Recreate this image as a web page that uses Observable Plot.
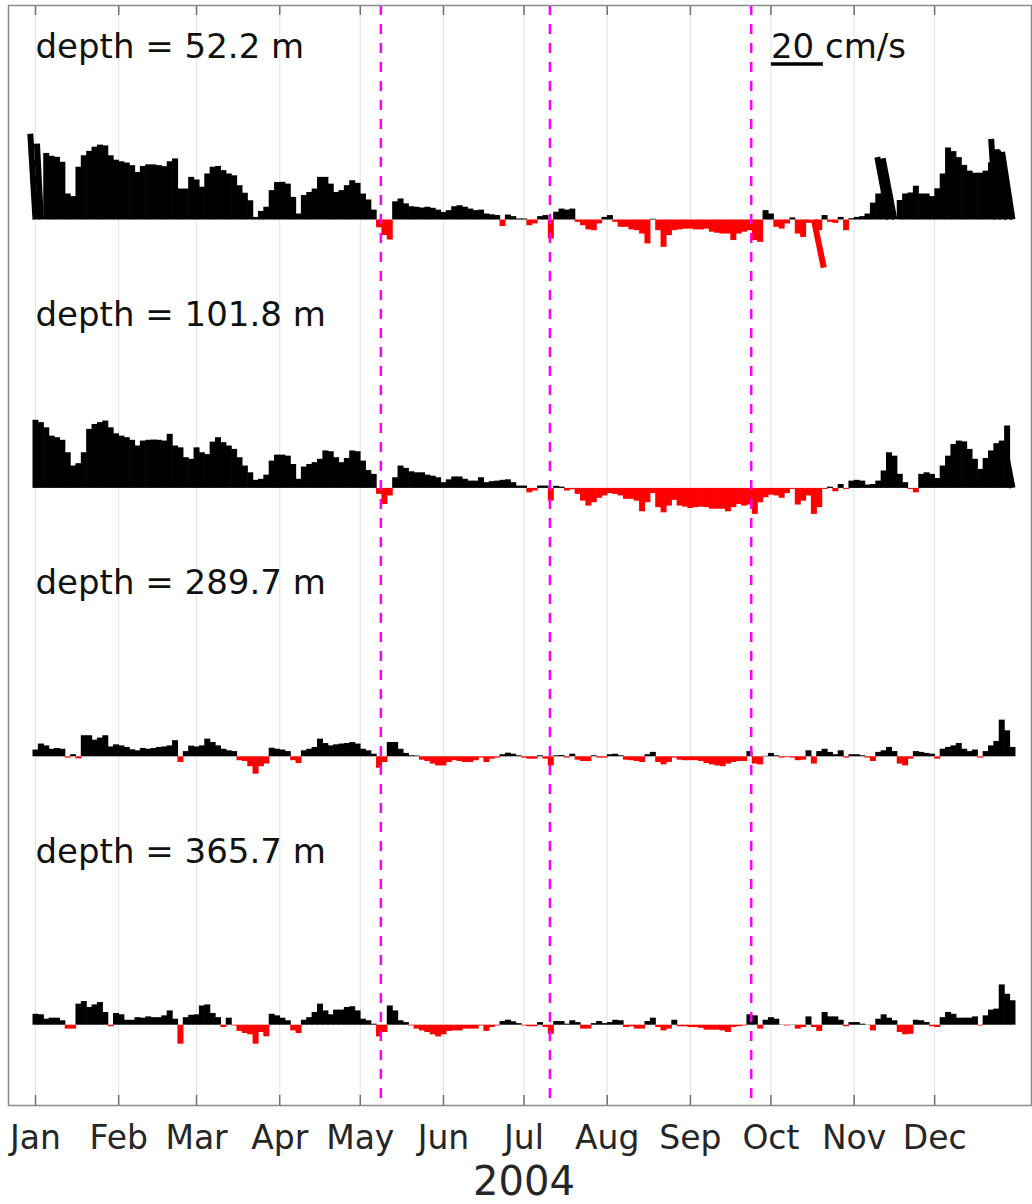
<!DOCTYPE html>
<html><head><meta charset="utf-8">
<script src="https://cdn.jsdelivr.net/npm/d3@7"></script>
<script src="https://cdn.jsdelivr.net/npm/@observablehq/plot@0.6"></script>
<style>body{margin:0;background:#fff}</style>
</head><body><div id="chart"></div>
<script>
// ---------------- data ----------------
const startDate = "2004-01-01";
const stepDays = 2; // one stick every 2 days
const depthLabels = ["52.2", "101.8", "289.7", "365.7"];
const monthNames = ["Jan","Feb","Mar","Apr","May","Jun","Jul","Aug","Sep","Oct","Nov","Dec"];
const eventDates = ["2004-05-08T16:00Z", "2004-07-10T16:00Z", "2004-09-23T16:00Z"];
const scaleBarSpeed = 20; // cm/s
const xAxisLabel = "2004";

// northward component (cm/s), every 2 days from Jan 1
const v52 = [
 33, 29.2, 25.6, 24.5, 24.1, 22.2, 10, 9, 20.3, 24.7,
 26.4, 28, 28.8, 28.5, 24.7, 23, 22.4, 21.9, 20.9, 18.3,
 20.6, 21.2, 21.2, 20.9, 20.5, 22.4, 23.5, 11.9, 11.9, 16.4,
 15.4, 12.6, 17.7, 20.3, 20.6, 19, 17.7, 17, 13.2, 10.3,
 7.4, 1, 3.3, 4.9, 11.3, 14.4, 14.5, 13.8, 8.7, 2.3,
 9.4, 10.6, 11.9, 16.4, 16.4, 13.8, 10.6, 11.3, 13.2, 15.1,
 14.1, 10, 7.7, 3.8, -3, -6, -7.7, 7, 8.1, 6.2,
 5.1, 4.9, 4.6, 4.9, 4.5, 3.8, 2.9, 3.6, 5.1, 5.5,
 4.9, 4.2, 3.6, 3.8, 2.3, 2, 1.7, -2.5, 1.9, 1.3,
 0.4, 0.4, -2.2, -1.5, 1.3, 1.7, -7.3, 3, 4.2, 3.8,
 4.2, -0.9, -2.2, -3.8, -4.1, -1.5, 1, 1.7, -0.9, -2.8,
 -2.8, -3.8, -4.1, -5.4, -9.2, 0.3, -4.1, -10.5, -6, -4.1,
 -3.8, -3.5, -3.5, -3.8, -3.8, -3.5, -4.7, -5.1, -5.4, -5.4,
 -7.9, -5.4, -4.7, -4.1, -7.9, -8.6, 3.6, 2.3, -2.8, -3.5,
 -1.5, 0.8, -5.4, -6.7, -1.3, -18.5, -4.1, 1.7, -0.9, -1.3,
 1, -4.1, 0.5, 1, 1.3, 2.3, 6.5, 10, 10.4, 24,
 23.5, 7.5, 10, 10.4, 13, 10, 10, 9, 12, 17.7,
 27.7, 26.3, 24, 21, 18.8, 18, 18, 18.8, 22, 31,
 27, 26.5, 26
];
const v102 = [
 26.2, 25.3, 23.3, 20.1, 19.5, 18.5, 13.7, 8.6, 9.5, 13.7,
 22.7, 24.6, 25.3, 25.9, 23.3, 21, 20.1, 19.5, 18.5, 16.3,
 18.2, 18.5, 18.6, 18.5, 18.2, 20.8, 16.3, 15.6, 11.8, 11.2,
 15.6, 13.7, 13, 17.8, 19.5, 17.6, 16.3, 15, 11.8, 8.6,
 6, 3.1, 3.5, 5.1, 10.5, 12.8, 12.8, 12.4, 9.2, 3.5,
 8.2, 9.2, 9.9, 11.2, 14.4, 14.1, 11.8, 9.9, 11.5, 14.4,
 14.1, 10.5, 6.9, 5.4, -2.3, -6.2, -2.9, 4.1, 8.6, 7.7,
 6.4, 6, 6, 5.1, 4.7, 4.1, 2.2, 3.3, 4.4, 4.4,
 3.5, 2.8, 2.8, 4.1, 2.2, 2.6, 2.8, 3.1, 3.3, 2.2,
 0.9, 0.9, -1.7, -1, 0.9, 0.9, -4.9, 0.8, 0.5, -1,
 -0.5, -2.3, -4.9, -6.8, -5.5, -3.8, -2.9, -2, -2.3, -2.9,
 -4.2, -4.2, -4.9, -9, -5.5, -2, -7.4, -9.4, -6.8, -4.6,
 -6.8, -7.2, -7.7, -7.4, -7.2, -7.4, -8, -8, -8, -9,
 -7.4, -6.2, -6.8, -6.4, -10, -5.5, -3.6, -2.6, -2.9, -3.8,
 -2, -0.4, -6.4, -4.9, -2.9, -10, -7.4, -0.4, 0.5, -1.3,
 1.5, -0.4, 2.8, 3.1, 2.8, 1.3, 1.5, 2.8, 6.7, 13.7,
 12.4, 5.4, 2.2, -0.4, -1.7, 5.4, 6, 5.4, 3.8, 8.6,
 12.4, 16.9, 18.2, 17.9, 15, 11.2, 7.3, 11.5, 14.4, 17.2,
 18.2, 24, 15.6
];
const v290 = [
 2.6, 4.9, 4.2, 2.9, 3.2, 2.9, -0.5, 0.8, -0.8, 8.1,
 8.1, 6.4, 7.2, 8.1, 3.8, 4.6, 4.2, 3.6, 2.7, 2.3,
 3.2, 2.9, 3.2, 3.6, 3.8, 4.2, 6.2, -2.2, 2, 4.1,
 3.8, 4.2, 6.8, 5.5, 4.2, 2.9, 2.3, 2, -1.5, -1.8,
 -3.8, -6.7, -3.8, -2.8, 3.3, 2.9, 2.6, 2, -1.5, -2.6,
 2.3, 2.9, 3.6, 6.8, 5.1, 4.2, 4.6, 4.9, 5.1, 5.5,
 4.9, 2.9, 2.3, 1, -4.4, -2.2, 5.5, 5.5, 2.9, 1.3,
 0.4, 0.3, -1.3, -1.8, -2.8, -3.5, -3.5, -2.2, -1.5, -1.8,
 -2.2, -2.2, -1.5, -0.5, -2.2, -0.9, -0.5, 0.8, 1.4, 1,
 0.4, -0.5, -0.9, -0.9, 0.4, -0.9, -3.5, 0.4, 0.5, -0.5,
 1, -1.3, -1.8, -1.8, 0.4, -0.5, -0.5, 0.8, 1, 0.4,
 -1.3, -1.5, -1.8, -2.2, 0.8, 1.7, -2.2, -3.1, -2.2, -0.5,
 -1.3, -1.5, -1.5, -1.5, -1.8, -2.6, -3.1, -3.5, -3.8, -2.8,
 -2.2, -1.8, -1.8, 2, -2.8, -3.1, 0.2, 1.3, 0.4, -0.5,
 -0.3, -0.5, -1.5, -1.3, 2.3, -2.8, 2, 2.9, 1.7, 0.8,
 2.3, -0.5, 0.8, 0.8, 0.4, -0.5, -1.8, 1.7, 2.3, 3.6,
 2, -2.8, -3.5, -0.9, 2, 1.7, 1.3, 1, -0.9, 2.9,
 3.6, 4.2, 5.1, 2.9, 2, 2.6, -0.5, 2, 4.2, 5.9,
 14.1, 10, 3.6
];
const v366 = [
 4.2, 4, 2.3, 2.7, 2.7, 1.7, -1.5, -1.5, 8.1, 9.1,
 6.8, 7.8, 8.7, 4.9, -0.6, 4.5, 4, 1.9, 1.9, 2.9,
 2.7, 3.2, 2.9, 2.9, 3.6, 5.5, 2.3, -7.3, 2.9, 3.8,
 4, 7.4, 7.8, 4.5, 2.9, -0.9, 2.7, -0.3, -2.4, -3.2,
 -3.7, -7.3, -2.8, -4.5, 4.2, 3.6, 2.7, 1.7, -2.2, -3.2,
 1.9, 2.9, 4.9, 8.1, 5.5, 4, 5.8, 5.8, 6.8, 7.1,
 5.5, 2.3, 1.7, 0.4, -4.5, -2.8, 7.4, 5.5, 1.7, 1,
 -0.3, -1.5, -2.2, -2.8, -3.7, -4.5, -3.7, -2.4, -2.2, -2.2,
 -1.5, -1.5, -1.5, -0.3, -2.4, -0.9, -0.3, 1.4, 1.9, 1.3,
 0.6, -0.3, -0.6, -0.6, 1, -0.9, -3.5, 1.4, 1.4, 0.4,
 1.7, 1, -1.5, -1.5, 0.6, 1.4, 0.6, 1, 1.9, 1.7,
 -0.9, -0.6, -1.5, -1.5, 1.4, 2.7, -0.9, -2.2, -1.5, 1.9,
 -0.6, -0.6, -0.9, -0.9, -1.2, -1.9, -1.9, -1.9, -2.2, -2.8,
 -0.9, -0.6, -0.3, 4, 3.6, -1.5, 1.9, 2.9, 2.3, 0.1,
 -0.3, 0.1, -1.5, -0.9, 3.2, -0.9, -2.4, 4.9, 3.2, 3.2,
 1.9, -0.6, 1, 1, 0.4, 0.1, -2.2, 2.3, 4, 2.7,
 1.7, -2.8, -3.7, -3.5, 1.9, 1.7, 1, -0.6, -0.9, 2.9,
 4.9, 4.2, 2.7, 2.7, 2.7, 3.2, -0.3, 3.6, 5.8, 6.2,
 15.5, 11.9, 9.4
];
// eastward component (cm/s) where noticeably non-zero, keyed by day of year
const u52 = {0: -2, 2: -1.5, 290: 3.8, 318: -4.5, 320: -4.5, 358: -2, 360: -2, 362: -3.5, 364: -4};
const u102 = {364: -3};
const u290 = {};
const u366 = {};

// ---------------- layout ----------------
const W = 1032, H = 1204;
const mL = 8, mR = 1, mT = 5, mB = 99;
const pxPerDay = 2.684, pxPerUnit = 2.6;
const DAY = 864e5;
const t0 = Date.parse(startDate + "T00:00Z");
const jan1X = 35;
const xDomain = [new Date(t0 - (jan1X - mL) / pxPerDay * DAY), new Date(t0 + (W - mR - jan1X) / pxPerDay * DAY)];
const panelGap = 268.4 / pxPerUnit;
const yMax = (219 - mT) / pxPerUnit;
const yMin = yMax - (H - mT - mB) / pxPerUnit;
const labelRise = (219 - 57) / pxPerUnit;
const barRise = (219 - 63.5) / pxPerUnit;
const uToDays = pxPerUnit / pxPerDay * DAY;

const series = [v52, v102, v290, v366];
const uSeries = [u52, u102, u290, u366];
const sticks = [];
series.forEach((vs, i) => vs.forEach((v, j) => {
  const day = j * stepDays;
  const u = uSeries[i][day] || 0;
  const t = t0 + day * DAY;
  const base = -i * panelGap;
  sticks.push({x1: new Date(t), y1: base, x2: new Date(t + u * uToDays), y2: base + v, neg: v < 0});
}));
const months = monthNames.map((m, k) => new Date(Date.UTC(2004, k, 1)));
const events = eventDates.map(d => new Date(d));
const oct1 = new Date(Date.UTC(2004, 9, 1));
const scaleBar = [{x1: oct1, x2: new Date(+oct1 + scaleBarSpeed * uToDays), y: barRise}];

const plot = Plot.plot({
  width: W, height: H,
  marginLeft: mL, marginRight: mR, marginTop: mT, marginBottom: mB,
  style: {fontFamily: "DejaVu Sans", background: "#fff", color: "#262626", overflow: "visible"},
  x: {type: "utc", domain: xDomain, axis: null},
  y: {domain: [yMin, yMax], axis: null},
  marks: [
    Plot.ruleX(months, {stroke: "#e2e2e2", strokeWidth: 1}),
    Plot.ruleX(months, {y1: yMin, y2: yMin + 10 / pxPerUnit, stroke: "#6e6e6e", strokeWidth: 1.5}),
    Plot.ruleX(months, {y1: yMax - 10 / pxPerUnit, y2: yMax, stroke: "#6e6e6e", strokeWidth: 1.5}),
    Plot.link(sticks.filter(d => !d.neg), {x1: "x1", y1: "y1", x2: "x2", y2: "y2", stroke: "#000", strokeWidth: 6}),
    Plot.link(sticks.filter(d => d.neg), {x1: "x1", y1: "y1", x2: "x2", y2: "y2", stroke: "#ff0000", strokeWidth: 6}),
    Plot.ruleX(events, {stroke: "#ff00ff", strokeWidth: 2.5, strokeDasharray: "10,9"}),
    Plot.text(depthLabels, {x: () => new Date(t0), y: (d, i) => -i * panelGap + labelRise,
      text: d => `depth = ${d} m`, textAnchor: "start", lineAnchor: "bottom", fontSize: 34, fill: "#111"}),
    Plot.link(scaleBar, {x1: "x1", x2: "x2", y1: "y", y2: "y", stroke: "#000", strokeWidth: 3.5}),
    Plot.text([`${scaleBarSpeed} cm/s`], {x: () => oct1, y: () => labelRise, text: d => d,
      textAnchor: "start", lineAnchor: "bottom", fontSize: 34, fill: "#111"}),
    Plot.axisX({ticks: months, tickFormat: d3.utcFormat("%b"), tickSize: 0, tickPadding: 20, fontSize: 33, label: null}),
    Plot.text([xAxisLabel], {frameAnchor: "bottom", dx: 4, dy: 89, lineAnchor: "bottom", text: d => d, fontSize: 40}),
    Plot.frame({stroke: "#8a8a8a", strokeWidth: 1.5})
  ]
});
document.getElementById("chart").appendChild(plot);
</script>
</body></html>
